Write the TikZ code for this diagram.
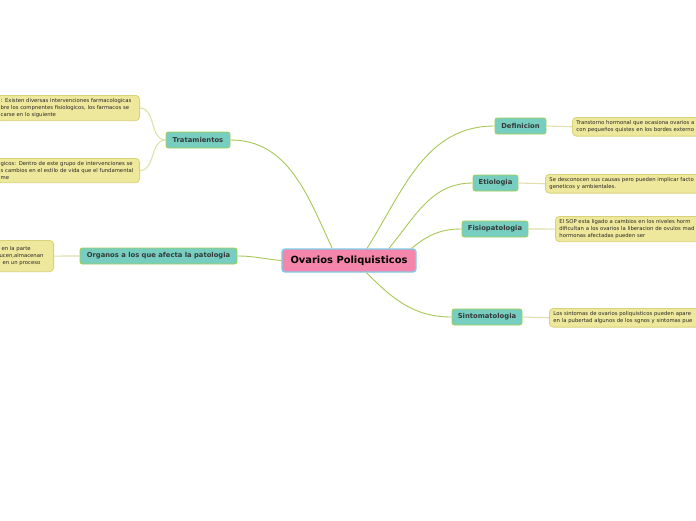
\documentclass[tikz,border=0pt]{standalone}
\usepackage{fontspec}
\setmainfont{DejaVu Sans}
\usetikzlibrary{positioning}
\definecolor{mmPink}{HTML}{F386AA}
\definecolor{mmBlue}{HTML}{7FCCEB}
\definecolor{mmTeal}{HTML}{77CDBF}
\definecolor{mmLime}{HTML}{A3D04F}
\definecolor{mmLeaf}{HTML}{EEE89C}
\definecolor{mmLeafEdge}{HTML}{D8D27A}
\definecolor{mmLink}{HTML}{A8C855}
\definecolor{mmTwig}{HTML}{E0DFAE}
\definecolor{mmText}{HTML}{333B3A}
\tikzset{
  % one unit is one pixel of the map, y runs downwards
  rootbox/.style  = {rounded corners=3pt, fill=mmPink, draw=mmBlue, line width=1.4pt,
                     minimum width=134, minimum height=23, inner sep=0pt,
                     font=\fontsize{9.9}{11}\selectfont\bfseries, text=black},
  topicbox/.style = {rounded corners=2.5pt, fill=mmTeal, draw=mmLime, line width=0.9pt,
                     minimum height=16, inner sep=0pt,
                     font=\fontsize{6.8}{8}\selectfont\bfseries, text=mmText},
  leafbox/.style  = {rounded corners=4pt, fill=mmLeaf, draw=mmLeafEdge, line width=0.8pt,
                     align=left, inner xsep=4pt, inner ysep=3.5pt,
                     font=\fontsize{5.3}{6.6}\selectfont, text=black!85},
  branch/.style   = {mmLink, line width=0.9pt},
  twig/.style     = {mmTwig, line width=1.1pt},
}

\begin{document}
\begin{tikzpicture}[x=1pt,y=-1pt]
  \useasboundingbox (0,0) rectangle (696,520);
  \fill[white] (0,0) rectangle (696,520);
  \clip (0,0) rectangle (696,520);
  % --- centre and main topics ----------------------------------------------
  \node[rootbox] (ovarios) at (349,260.5) {Ovarios Poliquisticos};
  \node[topicbox, minimum width=64]  (trat)  at (198,140)   {Tratamientos};
  \node[topicbox, minimum width=157] (organ) at (158.5,256) {Organos a los que afecta la patologia};
  \node[topicbox, minimum width=51]  (defin) at (520.5,126) {Definicion};
  \node[topicbox, minimum width=45]  (etio)  at (495.5,183) {Etiologia};
  \node[topicbox, minimum width=66]  (fisio) at (495,229)   {Fisiopatologia};
  \node[topicbox, minimum width=70]  (sinto) at (487,317)   {Sintomatologia};
  % --- leaves, cut by the page edge ----------------------------------------
  \node[leafbox, anchor=north east, text width=135] (trat1) at (140,95)
    {: Existen diversas intervenciones farmacologicas\\
     bre los compnentes fisiologicos, los farmacos se\\
     carse en lo siguiente};
  \node[leafbox, anchor=north east, text width=135] (trat2) at (140,158)
    {gicos: Dentro de este grupo de intervenciones se\\
     s cambios en el estilo de vida que el fundamental\\
     me};
  \node[leafbox, anchor=north east, text width=60, inner ysep=6.5pt] (organ1) at (54,240)
    {\hspace*{12pt}en la parte\\ \hspace*{10pt}ucen,almacenan\\ \hspace*{13pt}en un proceso};
  \node[leafbox, anchor=north west, text width=200] (defin1) at (572,117)
    {Transtorno hormonal que ocasiona ovarios a\\
     con pequeños quistes en los bordes externo};
  \node[leafbox, anchor=north west, text width=200] (etio1) at (545,174)
    {Se desconocen sus causas pero pueden implicar facto\\
     geneticos y ambientales.};
  \node[leafbox, anchor=north west, text width=200] (fisio1) at (555,216)
    {El SOP esta ligado a cambios en los niveles horm\\
     dificultan a los ovarios la liberacion de ovulos mad\\
     hormonas afectadas pueden ser};
  \node[leafbox, anchor=north west, text width=200] (sinto1) at (549,308)
    {Los sintomas de ovarios poliquisticos pueden apare\\
     en la pubertad algunos de los sgnos y sintomas pue};
  % --- branches from the centre --------------------------------------------
  \draw[branch] (ovarios.144) to[out=115, in=0] (trat.east);
  \draw[branch] (ovarios.west) to[out=175, in=0] (organ.east);
  \draw[branch] (ovarios.34) to[out=58, in=180] (defin.west);
  \draw[branch] (ovarios.17) to[out=50, in=180] (etio.west);
  \draw[branch] (ovarios.11) to[out=40, in=180] (fisio.west);
  \draw[branch] (ovarios.-35) to[out=-45, in=180] (sinto.west);
  % --- twigs to the leaves -------------------------------------------------
  \draw[twig] (trat.west) to[out=180, in=0] (trat1.east);
  \draw[twig] (trat.west) to[out=180, in=0] (trat2.east);
  \draw[twig] (organ.west) -- (organ1.east);
  \draw[twig] (defin.east) -- (defin1.west);
  \draw[twig] (etio.east) -- (etio1.west);
  \draw[twig] (fisio.east) -- (fisio1.west);
  \draw[twig] (sinto.east) -- (sinto1.west);
\end{tikzpicture}
\end{document}
